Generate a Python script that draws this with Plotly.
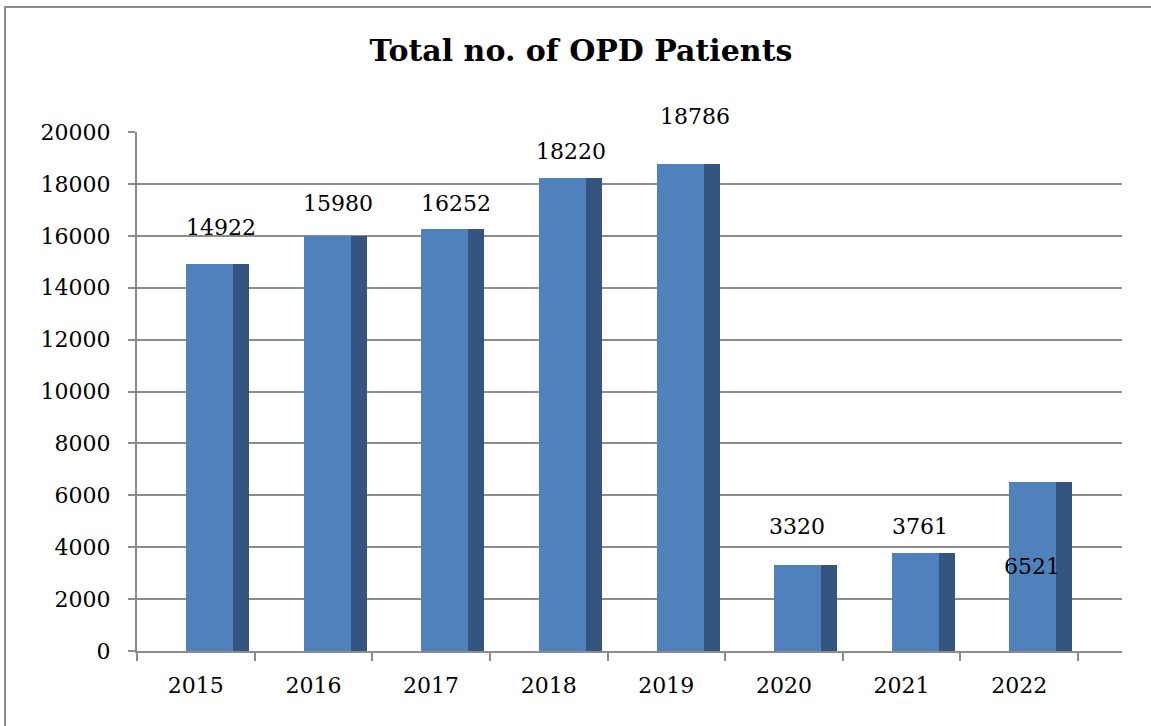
import plotly.graph_objects as go

years = ["2015", "2016", "2017", "2018", "2019", "2020", "2021", "2022"]
patients = [14922, 15980, 16252, 18220, 18786, 3320, 3761, 6521]
y_ticks = [0, 2000, 4000, 6000, 8000, 10000, 12000, 14000, 16000, 18000, 20000]

# label placement offsets (px) as in the reference
label_dx = [25, 25, 25, 22, 29, 13, 18, 13]
label_dy = [36, 33, 26, 27, 47, 38, 27, -85]

W, H = 1151, 726
L, R, T, B = 137, 29, 132, 75
pw = W - L - R
ph = H - T - B

fig = go.Figure()
fig.add_trace(go.Bar(x=years, y=patients, width=0.40, offset=-0.0825,
                     marker=dict(color="#4F81BD", line=dict(width=0)),
                     hoverinfo="x+y", showlegend=False))
fig.add_trace(go.Bar(x=years, y=patients, width=0.136, offset=0.317,
                     marker=dict(color="#34557F", line=dict(width=0)),
                     hoverinfo="skip", showlegend=False))

for i, (v, dx, dy) in enumerate(zip(patients, label_dx, label_dy)):
    fig.add_annotation(x=i, y=v, xref="x", yref="y", text=str(v), showarrow=False,
                       xshift=dx, yshift=dy,
                       font=dict(family="DejaVu Serif", size=22, color="#000"))

# outer chart border
fig.add_shape(type="rect", xref="paper", yref="paper",
              x0=(5 - L) / pw, x1=(W + 5 - L) / pw,
              y0=-(H + 5 - (H - B)) / ph, y1=((H - B) - 7) / ph,
              line=dict(color="#8c8c8c", width=2), fillcolor="rgba(0,0,0,0)",
              layer="above")

fig.update_layout(
    width=W, height=H,
    margin=dict(l=L, r=R, t=T, b=B, pad=0),
    paper_bgcolor="white", plot_bgcolor="white",
    barmode="overlay", bargap=0,
    title=dict(text="<b>Total no. of OPD Patients</b>", xref="container", yref="container",
               x=581 / W, y=1 - 50 / H, xanchor="center", yanchor="middle",
               font=dict(family="DejaVu Serif", size=30, color="#000")),
    xaxis=dict(type="category", categoryorder="array", categoryarray=years,
               range=[-0.5, 7.874], tickson="boundaries", ticks="outside",
               ticklen=8, tickwidth=2, tickcolor="#8c8c8c",
               showline=True, linecolor="#8c8c8c", linewidth=2,
               showgrid=False, zeroline=False, ticklabelstandoff=14,
               tickfont=dict(family="DejaVu Serif", size=22, color="#000")),
    yaxis=dict(range=[0, 20000], tickvals=y_ticks, ticktext=[str(t) for t in y_ticks],
               ticks="outside", ticklen=7, tickwidth=2, tickcolor="#8c8c8c",
               showline=True, linecolor="#8c8c8c", linewidth=2,
               showgrid=True, gridcolor="#8c8c8c", gridwidth=2, zeroline=False,
               ticklabelstandoff=13,
               tickfont=dict(family="DejaVu Serif", size=22, color="#000")),
)

fig.write_html("out.html", config={"displayModeBar": False},
               post_script="document.body.style.margin='0';")
